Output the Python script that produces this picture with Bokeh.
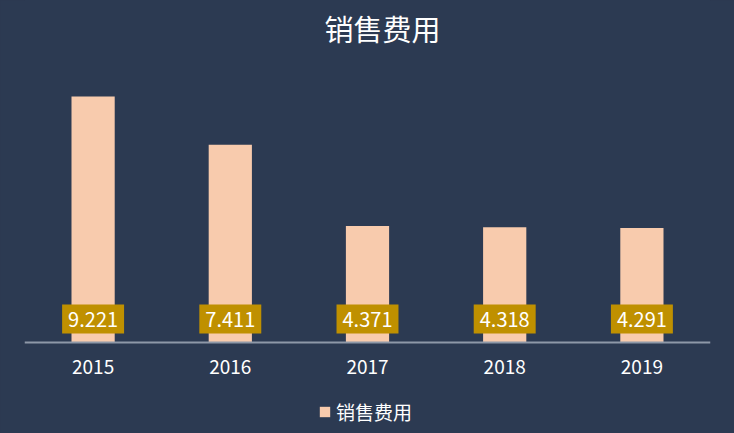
from bokeh.plotting import figure
from bokeh.models import ColumnDataSource, Legend, LegendItem, Range1d, Span
from bokeh.core.properties import value
from bokeh.embed import file_html
from bokeh.resources import INLINE

years = ["2015", "2016", "2017", "2018", "2019"]
values = [9.221, 7.411, 4.371, 4.318, 4.291]
labels = ["9.221", "7.411", "4.371", "4.318", "4.291"]
series_name = "销售费用"
title_text = "销售费用"

BG = "#2c3a52"
BAR = "#f8cbad"
GOLD = "#bf9000"
AXIS = "#8e98a8"
FONT = "Noto Sans CJK SC"

W, H = 734, 433
BASE_PX = 342          # screen y of the value axis zero line
PX_PER_UNIT = 26.678   # vertical scale

src = ColumnDataSource(dict(x=years, top=values, lab=labels, base=[0] * len(years)))

p = figure(x_range=years,
           y_range=Range1d(-(H - BASE_PX) / PX_PER_UNIT, BASE_PX / PX_PER_UNIT),
           width=W, height=H, output_backend="svg", toolbar_location=None,
           background_fill_color=BG, border_fill_color=BG,
           min_border_left=24, min_border_right=24, min_border_top=0, min_border_bottom=0)
p.x_range.range_padding = 0
p.outline_line_color = None
p.grid.visible = False
p.xaxis.visible = False
p.yaxis.visible = False

r = p.vbar(x="x", top="top", width=0.315, source=src, color=BAR, line_color=None)

# category axis: baseline + labels
p.add_layout(Span(location=0, dimension="width", line_color=AXIS, line_width=2))
p.text(x="x", y="base", text="x", source=src, y_offset=24,
       text_align="center", text_baseline="middle", text_color="#ffffff",
       text_font=value(FONT), text_font_size="19px")

# value labels
p.text(x="x", y="base", text="lab", source=src, y_offset=-23.5,
       text_align="center", text_baseline="middle", text_color="#ffffff",
       text_font=value(FONT), text_font_size="20px",
       background_fill_color=GOLD, padding=dict(left=6, right=6, top=7, bottom=7))

# title
p.text(x=[years[2]], y=[BASE_PX / PX_PER_UNIT], text=[title_text], x_offset=15, y_offset=27,
       text_align="center", text_baseline="middle", text_color="#ffffff",
       text_font=value(FONT), text_font_size="29px")

legend_glyph = p.scatter(x=[years[0]], y=[0], marker="square", size=0,
                         fill_color=BAR, line_color="#7f8796", visible=True)

legend = Legend(items=[LegendItem(label=series_name, renderers=[r])],
                orientation="horizontal", location=(294, 8),
                background_fill_alpha=0, border_line_color=None,
                label_text_color="#ffffff", label_text_font=FONT,
                label_text_font_size="19px", glyph_width=13, glyph_height=13,
                label_standoff=5, margin=0, padding=4)
p.add_layout(legend)

html = file_html(p, INLINE)
html = html.replace("</head>", "<style>body{background:%s;}</style></head>" % BG, 1)
open("out.html", "w").write(html)
